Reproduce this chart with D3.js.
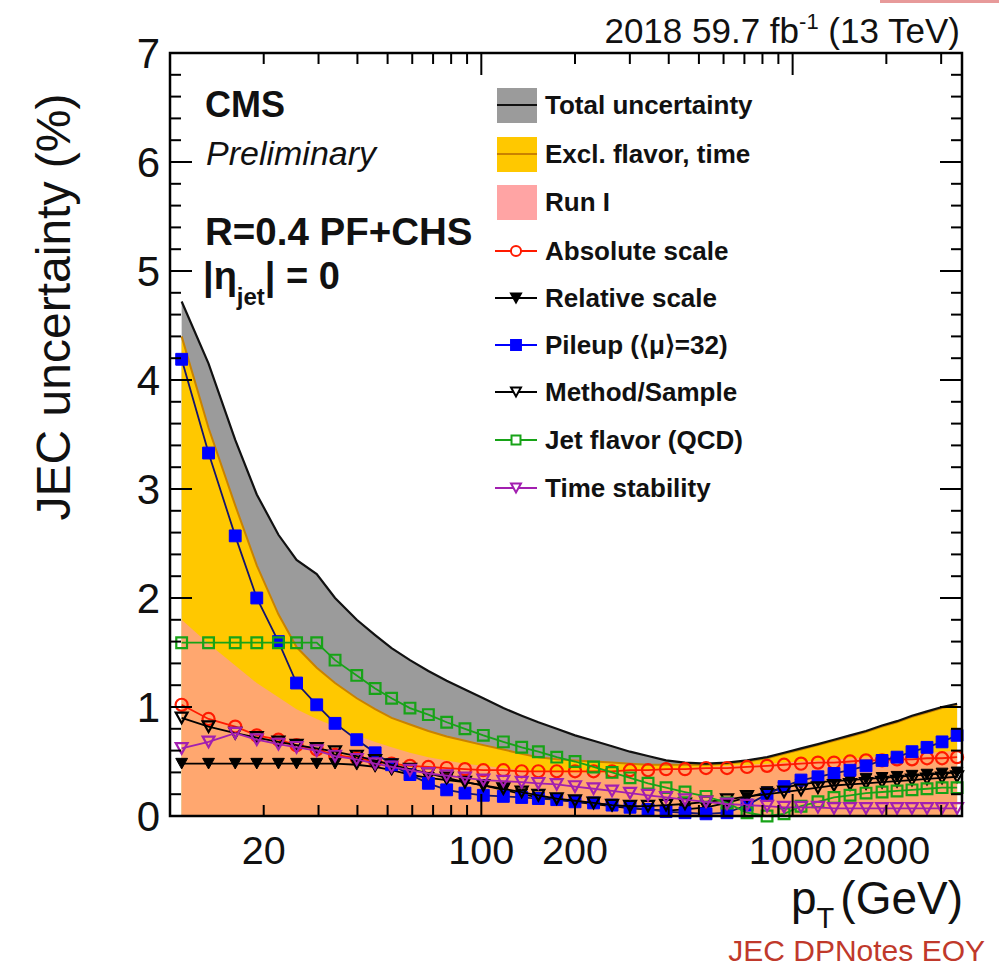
<!DOCTYPE html>
<html>
<head>
<meta charset="utf-8">
<script src="https://cdn.jsdelivr.net/npm/d3@7"></script>
<style>
  body { margin: 0; background: #fff; }
  svg { display: block; }
  text { font-family: "Liberation Sans", Arial, Helvetica, sans-serif; fill: #111; }
</style>
</head>
<body>
<svg id="chart" width="999" height="970"></svg>
<script>
// Jet pT points (GeV) at which the uncertainty sources are evaluated
const ptPoints = [10.9, 13.3, 16.2, 19, 22.3, 25.5, 29.6, 33.9, 39.8, 45.6, 51.5, 59, 67.6, 77.4, 88.6,
  101.5, 117.7, 134.8, 152.5, 174.7, 200, 229.4, 263, 300.4, 343.2, 392.1, 451.1, 527, 615.6, 713.8,
  827.7, 938.5, 1064, 1206, 1358, 1529, 1721, 1938, 2165, 2418, 2702, 3020, 3375];

// Bands (%)
const totalUnc = [4.72, 4.15, 3.45, 2.95, 2.58, 2.35, 2.22, 2.00, 1.80, 1.66, 1.54, 1.43, 1.33, 1.24, 1.16,
  1.08, 0.99, 0.92, 0.86, 0.80, 0.74, 0.69, 0.64, 0.59, 0.55, 0.51, 0.49, 0.48, 0.49, 0.51,
  0.54, 0.58, 0.62, 0.66, 0.70, 0.74, 0.78, 0.83, 0.87, 0.92, 0.96, 1.00, 1.03];
const exclFlavorTime = [4.40, 3.56, 2.85, 2.30, 1.85, 1.55, 1.36, 1.22, 1.08, 0.98, 0.90, 0.84, 0.78, 0.73, 0.69,
  0.65, 0.61, 0.57, 0.54, 0.52, 0.51, 0.50, 0.49, 0.48, 0.47, 0.47, 0.47, 0.47, 0.48, 0.50,
  0.53, 0.57, 0.61, 0.65, 0.69, 0.73, 0.77, 0.82, 0.86, 0.91, 0.95, 0.99, 1.02];
const runI = [1.80, 1.58, 1.38, 1.22, 1.09, 0.98, 0.89, 0.82, 0.74, 0.68, 0.63, 0.58, 0.54, 0.51, 0.48,
  0.46, 0.44, 0.42, 0.41, 0.40, 0.40, 0.40, 0.40, 0.41, 0.42, 0.43, 0.44, 0.45, 0.46, 0.47,
  0.48, 0.49, 0.50, 0.51, 0.52, 0.53, 0.54, 0.55, 0.56, 0.57, 0.58, 0.59, 0.60];

// Individual sources (%)
const absoluteScale = [1.02, 0.89, 0.82, 0.74, 0.70, 0.65, 0.61, 0.56, 0.53, 0.50, 0.48, 0.46, 0.45, 0.44, 0.43,
  0.42, 0.42, 0.41, 0.41, 0.41, 0.41, 0.41, 0.41, 0.42, 0.42, 0.43, 0.43, 0.44, 0.44, 0.45,
  0.46, 0.47, 0.48, 0.49, 0.49, 0.50, 0.51, 0.51, 0.52, 0.52, 0.53, 0.53, 0.54];
const relativeScale = [0.48, 0.48, 0.48, 0.48, 0.48, 0.48, 0.48, 0.48, 0.47, 0.45, 0.42, 0.38, 0.35, 0.33, 0.31,
  0.28, 0.24, 0.20, 0.17, 0.15, 0.13, 0.11, 0.09, 0.07, 0.06, 0.05, 0.06, 0.08, 0.12, 0.17,
  0.22, 0.26, 0.29, 0.31, 0.32, 0.33, 0.34, 0.35, 0.36, 0.37, 0.38, 0.39, 0.40];
const pileup = [4.19, 3.33, 2.57, 2.00, 1.60, 1.22, 1.02, 0.85, 0.70, 0.58, 0.47, 0.38, 0.30, 0.24, 0.21,
  0.19, 0.18, 0.17, 0.16, 0.15, 0.13, 0.12, 0.10, 0.08, 0.06, 0.04, 0.03, 0.02, 0.03, 0.10,
  0.20, 0.27, 0.33, 0.36, 0.39, 0.42, 0.46, 0.51, 0.54, 0.59, 0.63, 0.68, 0.74];
const methodSample = [0.90, 0.82, 0.76, 0.72, 0.68, 0.65, 0.62, 0.59, 0.55, 0.51, 0.47, 0.43, 0.39, 0.35, 0.31,
  0.28, 0.25, 0.22, 0.19, 0.16, 0.14, 0.12, 0.10, 0.09, 0.09, 0.10, 0.11, 0.13, 0.15, 0.18,
  0.20, 0.22, 0.24, 0.26, 0.28, 0.29, 0.30, 0.31, 0.32, 0.33, 0.34, 0.35, 0.36];
const jetFlavor = [1.59, 1.59, 1.59, 1.59, 1.59, 1.59, 1.59, 1.43, 1.29, 1.17, 1.08, 0.99, 0.93, 0.86, 0.80,
  0.74, 0.68, 0.63, 0.59, 0.54, 0.50, 0.45, 0.40, 0.35, 0.30, 0.26, 0.22, 0.18, 0.12, 0.03,
  0.00, 0.02, 0.09, 0.13, 0.17, 0.19, 0.21, 0.22, 0.23, 0.24, 0.25, 0.26, 0.26];
const timeStability = [0.62, 0.68, 0.76, 0.70, 0.66, 0.63, 0.60, 0.55, 0.52, 0.48, 0.45, 0.42, 0.39, 0.37, 0.35,
  0.33, 0.32, 0.31, 0.30, 0.29, 0.27, 0.25, 0.23, 0.21, 0.19, 0.17, 0.15, 0.13, 0.11, 0.10,
  0.09, 0.08, 0.08, 0.08, 0.07, 0.07, 0.07, 0.07, 0.07, 0.07, 0.07, 0.07, 0.07];

// Axis ticks
const yTickLabels = [0, 1, 2, 3, 4, 5, 6, 7];
const xTickLabels = [20, 100, 200, 1000, 2000];
const xMajorTicks = [100, 1000];
const xMinorTicks = [20, 30, 40, 50, 60, 70, 80, 90, 200, 300, 400, 500, 600, 700, 800, 900, 2000, 3000];

const svg = d3.select("#chart");

const x = d3.scaleLog().domain([10, 3500]).range([170, 962]);
const y = d3.scaleLinear().domain([0, 7]).range([816, 53]);
const [xL, xR] = x.range();
const [yB, yT] = y.range();

// ---- bands ----
function bandArea(vals) {
  return d3.area()
    .x((d, i) => x(ptPoints[i]))
    .y0(y(0))
    .y1(d => y(d))(vals);
}
function bandLine(vals) {
  return d3.line().x((d, i) => x(ptPoints[i])).y(d => y(d))(vals);
}

const bands = svg.append("g");
bands.append("path").attr("d", bandArea(totalUnc)).attr("fill", "#9b9b9b");
bands.append("path").attr("d", bandArea(exclFlavorTime)).attr("fill", "#ffc800");
bands.append("path").attr("d", bandArea(runI)).attr("fill", "#ff9a9a").attr("fill-opacity", 0.72);
bands.append("path").attr("d", bandLine(exclFlavorTime)).attr("fill", "none")
  .attr("stroke", "#c98200").attr("stroke-width", 2);
bands.append("path").attr("d", bandLine(totalUnc)).attr("fill", "none")
  .attr("stroke", "#111").attr("stroke-width", 2.2);

// ---- marker shapes ----
const triDown = {
  draw(ctx, size) {
    const s = Math.sqrt(size);
    ctx.moveTo(-s / 2, -s * 0.45);
    ctx.lineTo(s / 2, -s * 0.45);
    ctx.lineTo(0, s * 0.45);
    ctx.closePath();
  }
};

const series = [
  { name: "Absolute scale", vals: absoluteScale, color: "#ff1a00", line: "#ff1a00", shape: d3.symbolCircle, size: 115, filled: false },
  { name: "Relative scale", vals: relativeScale, color: "#000", line: "#000", shape: triDown, size: 140, filled: true },
  { name: "Pileup (\u27E8\u03BC\u27E9=32)", vals: pileup, color: "#0000ff", line: "#14146e", shape: d3.symbolSquare, size: 140, filled: true },
  { name: "Method/Sample", vals: methodSample, color: "#000", line: "#000", shape: triDown, size: 140, filled: false },
  { name: "Jet flavor (QCD)", vals: jetFlavor, color: "#17a317", line: "#17a317", shape: d3.symbolSquare, size: 115, filled: false },
  { name: "Time stability", vals: timeStability, color: "#a21fb0", line: "#a21fb0", shape: triDown, size: 140, filled: false }
];

const lineGen = d3.line().x((d, i) => x(ptPoints[i])).y(d => y(d));

series.forEach(s => {
  const g = svg.append("g");
  g.append("path").attr("d", lineGen(s.vals)).attr("fill", "none")
    .attr("stroke", s.line).attr("stroke-width", 1.8);
  g.selectAll("path.m").data(s.vals).join("path")
    .attr("class", "m")
    .attr("transform", (d, i) => `translate(${x(ptPoints[i])},${y(d)})`)
    .attr("d", d3.symbol().type(s.shape).size(s.size))
    .attr("fill", s.filled ? s.color : "none")
    .attr("stroke", s.color)
    .attr("stroke-width", s.filled ? 1 : 2.2);
});

// ---- frame and ticks ----
const axes = svg.append("g").attr("stroke", "#000");
axes.append("rect").attr("x", xL).attr("y", yT).attr("width", xR - xL).attr("height", yB - yT)
  .attr("fill", "none").attr("stroke-width", 2.5);

d3.range(0, 7.0001, 0.2).forEach(v => {
  const major = Math.abs(v - Math.round(v)) < 1e-6;
  const len = major ? 22 : 11;
  axes.append("line").attr("x1", xL).attr("x2", xL + len).attr("y1", y(v)).attr("y2", y(v)).attr("stroke-width", 2);
  axes.append("line").attr("x1", xR).attr("x2", xR - len).attr("y1", y(v)).attr("y2", y(v)).attr("stroke-width", 2);
});
xMajorTicks.concat(xMinorTicks).forEach(t => {
  const len = xMajorTicks.includes(t) ? 22 : 11;
  axes.append("line").attr("x1", x(t)).attr("x2", x(t)).attr("y1", yB).attr("y2", yB - len).attr("stroke-width", 2);
  axes.append("line").attr("x1", x(t)).attr("x2", x(t)).attr("y1", yT).attr("y2", yT + len).attr("stroke-width", 2);
});

// tick labels
svg.append("g").selectAll("text").data(yTickLabels).join("text")
  .attr("x", 160).attr("y", d => y(d) + 15)
  .attr("text-anchor", "end").attr("font-size", 42)
  .text(d => d);
svg.append("g").selectAll("text").data(xTickLabels).join("text")
  .attr("x", d => x(d)).attr("y", 864)
  .attr("text-anchor", "middle").attr("font-size", 39.5)
  .text(d => d);

// axis titles
svg.append("text")
  .attr("transform", "translate(70,307) rotate(-90)")
  .attr("text-anchor", "middle").attr("font-size", 48)
  .text("JEC uncertainty (%)");

const xt = svg.append("text").attr("x", 963).attr("y", 914).attr("text-anchor", "end").attr("font-size", 46);
xt.append("tspan").text("p");
xt.append("tspan").attr("font-size", 29).attr("dy", 14).text("T");
xt.append("tspan").attr("dy", -14).attr("dx", 6).text("(GeV)");

// luminosity label
const lumi = svg.append("text").attr("x", 960).attr("y", 43).attr("text-anchor", "end").attr("font-size", 35);
lumi.append("tspan").text("2018 59.7 fb");
lumi.append("tspan").attr("font-size", 22).attr("dy", -14).text("-1");
lumi.append("tspan").attr("dy", 14).text(" (13 TeV)");

// CMS labels
svg.append("text").attr("x", 205).attr("y", 117).attr("font-size", 36).attr("font-weight", "bold").text("CMS");
svg.append("text").attr("x", 206).attr("y", 165).attr("font-size", 34).attr("font-style", "italic")
  .attr("fill", "#333").text("Preliminary");
svg.append("text").attr("x", 205).attr("y", 245).attr("font-size", 38.5).attr("font-weight", "bold").text("R=0.4 PF+CHS");
const eta = svg.append("text").attr("x", 203).attr("y", 289).attr("font-size", 38).attr("font-weight", "bold");
eta.append("tspan").text("|\u03B7");
eta.append("tspan").attr("font-size", 24).attr("dy", 16).text("jet");
eta.append("tspan").attr("dy", -16).text("| = 0");

// ---- legend ----
const legendRows = [
  { label: "Total uncertainty", kind: "band", fill: "#9b9b9b", line: "#111" },
  { label: "Excl. flavor, time", kind: "band", fill: "#ffc800", line: "#c98200" },
  { label: "Run I", kind: "band", fill: "#ff9a9a", line: null }
].concat(series.map(s => ({ label: s.name, kind: "marker", s })));
const legendY = [105, 154, 202, 251, 298, 345, 392, 440, 488];

const leg = svg.append("g");
legendRows.forEach((r, i) => {
  const cy = legendY[i];
  if (r.kind === "band") {
    leg.append("rect").attr("x", 497).attr("y", cy - 17).attr("width", 40).attr("height", 35)
      .attr("fill", r.fill).attr("fill-opacity", r.line ? 1 : 0.9);
    if (r.line) {
      leg.append("line").attr("x1", 497).attr("x2", 537).attr("y1", cy).attr("y2", cy)
        .attr("stroke", r.line).attr("stroke-width", 2);
    }
  } else {
    const s = r.s;
    leg.append("line").attr("x1", 495).attr("x2", 537).attr("y1", cy).attr("y2", cy)
      .attr("stroke", s.color).attr("stroke-width", 1.8);
    leg.append("path").attr("transform", `translate(516,${cy})`)
      .attr("d", d3.symbol().type(s.shape).size(s.size * 0.7))
      .attr("fill", s.filled ? s.color : "#fff")
      .attr("stroke", s.color).attr("stroke-width", 2);
  }
  leg.append("text").attr("x", 545).attr("y", cy + 9).attr("font-size", 26).attr("font-weight", "bold")
    .text(r.label);
});

// note in the lower right corner and corner rule
svg.append("text").attr("x", 985).attr("y", 961).attr("text-anchor", "end").attr("font-size", 30)
  .style("fill", "#c0392b").text("JEC DPNotes EOY");
svg.append("rect").attr("x", 880).attr("y", 0).attr("width", 119).attr("height", 3).attr("fill", "#e79a9a");
</script>
</body>
</html>
